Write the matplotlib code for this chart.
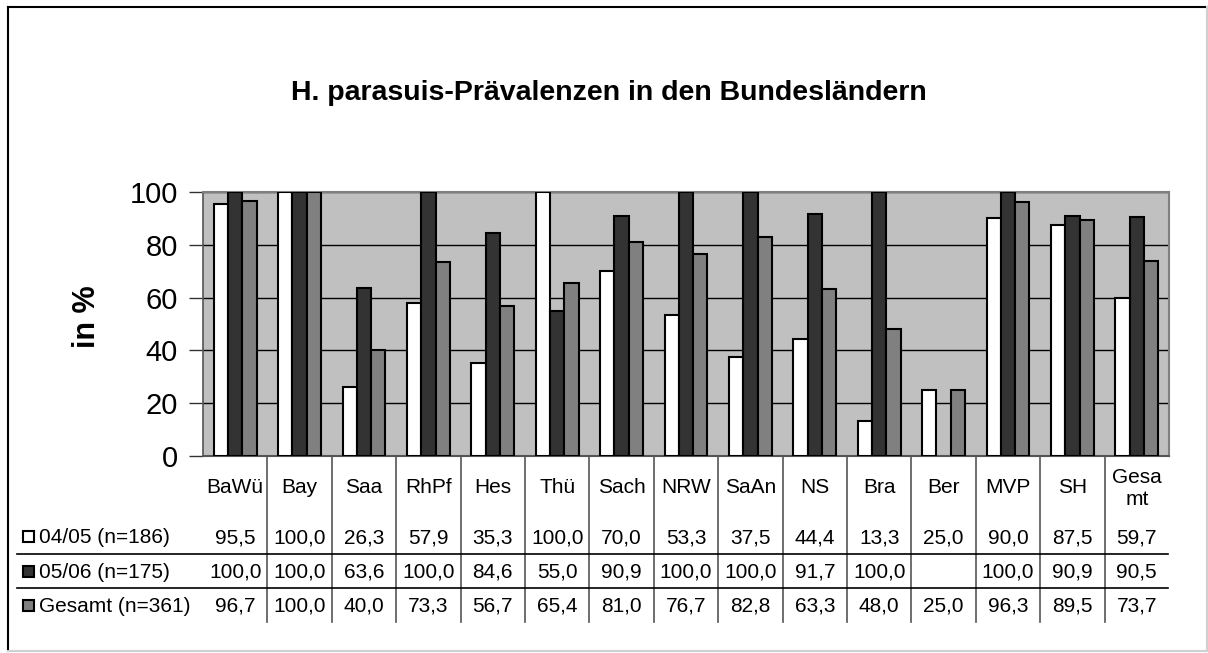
import numpy as np
import matplotlib
matplotlib.use("Agg")
import matplotlib.pyplot as plt
from matplotlib.transforms import blended_transform_factory
from matplotlib.lines import Line2D
from matplotlib.patches import Rectangle

plt.rcParams['font.family'] = ['Liberation Sans', 'DejaVu Sans']

categories = ["BaWü", "Bay", "Saa", "RhPf", "Hes", "Thü", "Sach", "NRW", "SaAn",
              "NS", "Bra", "Ber", "MVP", "SH", "Gesa\nmt"]
series_names = ["04/05 (n=186)", "05/06 (n=175)", "Gesamt (n=361)"]
s0405 = [95.5, 100.0, 26.3, 57.9, 35.3, 100.0, 70.0, 53.3, 37.5, 44.4, 13.3, 25.0, 90.0, 87.5, 59.7]
s0506 = [100.0, 100.0, 63.6, 100.0, 84.6, 55.0, 90.9, 100.0, 100.0, 91.7, 100.0, np.nan, 100.0, 90.9, 90.5]
sges = [96.7, 100.0, 40.0, 73.3, 56.7, 65.4, 81.0, 76.7, 82.8, 63.3, 48.0, 25.0, 96.3, 89.5, 73.7]
yticks = [0, 20, 40, 60, 80, 100]
title = "H. parasuis-Prävalenzen in den Bundesländern"
ylabel = "in %"

W, H = 1208, 653
fig = plt.figure(figsize=(W / 100, H / 100), dpi=100)

def fy(y):
    return 1 - y / H

def fx(x):
    return x / W

L, R, T, B = 203, 1169, 192, 456
ax = fig.add_axes([fx(L), fy(B), (R - L) / W, (B - T) / H])
ax.set_facecolor('#C0C0C0')

series = [s0405, s0506, sges]
colors = ['#FFFFFF', '#333333', '#808080']
n = len(categories)
x = np.arange(n)
bw = 1 / 4.5
for i, (vals, c) in enumerate(zip(series, colors)):
    ax.bar(x + (i - 1) * bw, vals, width=bw,
           color=c, edgecolor='black', linewidth=1.5, zorder=3)

ax.set_xlim(-0.5, n - 0.5)
ax.set_ylim(0, 100)
ax.set_yticks(yticks)
ax.set_yticklabels([str(t) for t in yticks], fontsize=21)
ax.yaxis.grid(True, color='black', linewidth=1)
ax.set_axisbelow(True)
ax.set_xticks([])
ax.tick_params(axis='y', length=10, width=1, color='#333333', pad=8)
for s in ['top', 'right']:
    ax.spines[s].set_color('#808080')
    ax.spines[s].set_linewidth(1.5)
ax.spines['left'].set_color('#555555')
ax.spines['bottom'].set_color('#555555')
ax.spines['left'].set_linewidth(1.2)
ax.spines['bottom'].set_linewidth(1.5)

fig.text(fx(608.5), fy(99.5), title, fontsize=20.5, fontweight='bold', ha='center',
         va='baseline')
fig.text(fx(87), fy(317), ylabel, fontsize=22, fontweight='bold', ha='center', va='center',
         rotation=90)

# data table
tr = blended_transform_factory(ax.transData, fig.transFigure)
fs = 15
for i, cat in enumerate(categories):
    yb = 505 if '\n' in cat else 493
    fig.text(i, fy(yb), cat, transform=tr, ha='center', va='baseline', fontsize=fs,
             linespacing=1.2)

row_base = [543, 578, 612]
for r, (vals, c, name) in enumerate(zip(series, colors, series_names)):
    for i, v in enumerate(vals):
        if not np.isnan(v):
            fig.text(i, fy(row_base[r]), f"{v:.1f}".replace('.', ','), transform=tr,
                     ha='center', va='baseline', fontsize=fs)
    fig.patches.append(Rectangle((fx(23), fy(row_base[r] - 1)), 11 / W, 11 / H,
                                 transform=fig.transFigure, facecolor=c,
                                 edgecolor='black', linewidth=1.5))
    fig.text(fx(39), fy(row_base[r]), name, ha='left', va='baseline', fontsize=fs)

for k in range(1, n):
    fig.add_artist(Line2D([k - 0.5, k - 0.5], [fy(456), fy(622)], transform=tr,
                          color='#555555', linewidth=1.2))
for yy in [554, 588]:
    fig.add_artist(Line2D([fx(17), fx(1168)], [fy(yy), fy(yy)], transform=fig.transFigure,
                          color='black', linewidth=1.2))

# outer border
fig.add_artist(Line2D([fx(8), fx(8)], [fy(7), fy(651)], transform=fig.transFigure,
                      color='black', linewidth=1.5))
fig.add_artist(Line2D([fx(8), fx(1207)], [fy(7), fy(7)], transform=fig.transFigure,
                      color='black', linewidth=1.5))
fig.add_artist(Line2D([fx(1207), fx(1207)], [fy(7), fy(651)], transform=fig.transFigure,
                      color='#D0D0D0', linewidth=1.5))
fig.add_artist(Line2D([fx(8), fx(1207)], [fy(651), fy(651)], transform=fig.transFigure,
                      color='#D0D0D0', linewidth=1.5))

fig.savefig("out.png", dpi=100)
